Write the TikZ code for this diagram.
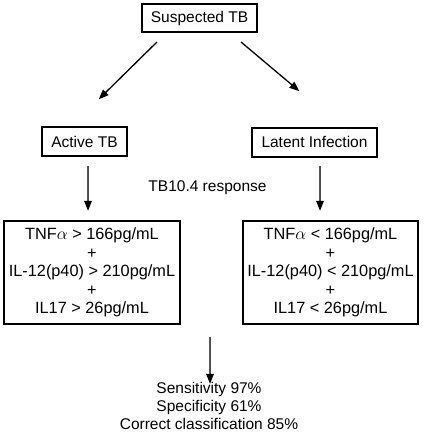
\documentclass[tikz,border=0pt]{standalone}
\usepackage{fontspec}
\setmainfont{Liberation Sans}
\usetikzlibrary{calc}
\tikzset{
  box/.style={draw,line width=2pt,align=center,inner sep=0pt,font=\fontsize{15.5}{18.5}\selectfont},
  bigbox/.style={box,line width=1.8pt,minimum height=103pt,font=\fontsize{16.3}{18.6}\selectfont},
  txt/.style={align=center,inner sep=0pt,font=\fontsize{15.5}{18}\selectfont},
  % shaft plus a filled head, built from points
  arr/.style={line width=1.3pt,line join=miter,fill=black,
    to path={-- ($(\tikztotarget)!7.5pt!(\tikztostart)$)
      -- ($(\tikztotarget)!7.5pt!(\tikztostart)!3pt!90:(\tikztotarget)$)
      -- (\tikztotarget)
      -- ($(\tikztotarget)!7.5pt!(\tikztostart)!3pt!-90:(\tikztotarget)$)
      -- ($(\tikztotarget)!7.5pt!(\tikztostart)$)}},
}
\begin{document}
\begin{tikzpicture}
\useasboundingbox (0,0) rectangle (423pt,-436pt);
\begin{scope}[x=1pt,y=1pt]
\node[box,minimum width=115pt,minimum height=28pt] (susp) at (199.5,-18) {Suspected TB};
\node[box,minimum width=85pt,minimum height=29pt] (act) at (84.5,-141.5) {Active TB};
\node[box,minimum width=125pt,minimum height=29pt] (lat) at (314.5,-142) {Latent Infection};
\node[bigbox,minimum width=176pt] (actbox) at (92,-272.5)
  {TNF$\alpha$ > 166pg/mL\\+\\IL-12(p40) > 210pg/mL\\+\\IL17 > 26pg/mL};
\node[bigbox,minimum width=175pt] (latbox) at (330.5,-272.5)
  {TNF$\alpha$ < 166pg/mL\\+\\IL-12(p40) < 210pg/mL\\+\\IL17 < 26pg/mL};
\node[txt] (resp) at (207.5,-188) {TB10.4 response};
\node[txt,anchor=north] (res) at (209,-382) {Sensitivity 97\%\\Specificity 61\%\\Correct classification 85\%};
% arrow ends
\coordinate (actin) at (100,-98);
\coordinate (latin) at (298,-90);
\coordinate (actout) at (88,-166);
\coordinate (latout) at (320,-166);
\coordinate (split) at (210,-337);
\coordinate (resin) at (split |- res.north);
% arrows
\draw[arr] ($(susp.south)+(-42.5,-9)$) to (actin);
\draw[arr] ($(susp.south)+(41.5,-9)$) to (latin);
\draw[arr] (actout) to ($(actout)+(0,-43)$);
\draw[arr] (latout) to ($(latout)+(0,-43)$);
\draw[arr] (split) to (resin);
\end{scope}
\end{tikzpicture}
\end{document}
